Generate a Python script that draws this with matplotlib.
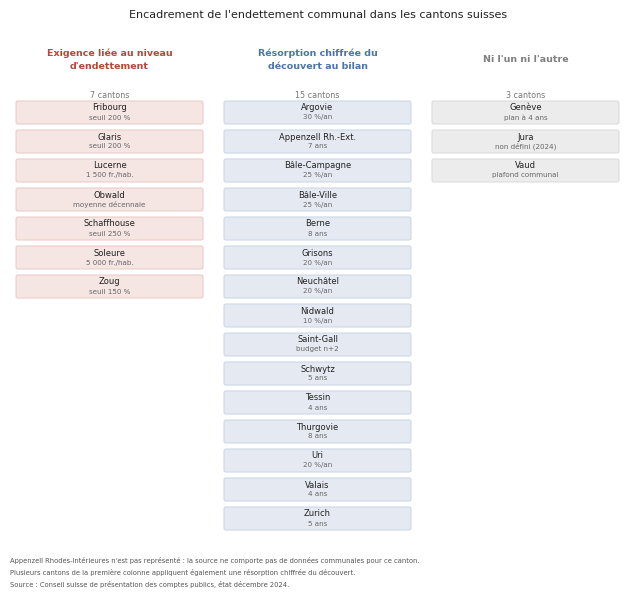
import matplotlib
matplotlib.use("Agg")
import matplotlib.pyplot as plt
from matplotlib.patches import FancyBboxPatch

headings = ["Exigence liée au niveau\nd'endettement", "Résorption chiffrée du\ndécouvert au bilan", "Ni l'un ni l'autre"]
head_colors = ["#b5483a", "#4a77a8", "#808080"]
box_fill = ["#f5e6e4", "#e5eaf2", "#ececec"]
box_edge = ["#eccdc9", "#cdd8e6", "#dcdcdc"]
col1_names = ["Fribourg", "Glaris", "Lucerne", "Obwald", "Schaffhouse", "Soleure", "Zoug"]
col1_notes = ["seuil 200 %", "seuil 200 %", "1 500 fr./hab.", "moyenne décennale", "seuil 250 %", "5 000 fr./hab.", "seuil 150 %"]
col2_names = ["Argovie", "Appenzell Rh.-Ext.", "Bâle-Campagne", "Bâle-Ville", "Berne", "Grisons", "Neuchâtel",
              "Nidwald", "Saint-Gall", "Schwytz", "Tessin", "Thurgovie", "Uri", "Valais", "Zurich"]
col2_notes = ["30 %/an", "7 ans", "25 %/an", "25 %/an", "8 ans", "20 %/an", "20 %/an",
              "10 %/an", "budget n+2", "5 ans", "4 ans", "8 ans", "20 %/an", "4 ans", "5 ans"]
col3_names = ["Genève", "Jura", "Vaud"]
col3_notes = ["plan à 4 ans", "non défini (2024)", "plafond communal"]
columns = [(col1_names, col1_notes), (col2_names, col2_notes), (col3_names, col3_notes)]

W, H = 636, 599
fig = plt.figure(figsize=(W/100, H/100), dpi=100)
ax = fig.add_axes([0, 0, 1, 1])
ax.set_xlim(0, W); ax.set_ylim(H, 0); ax.axis("off")

ax.text(W/2, 15, "Encadrement de l'endettement communal dans les cantons suisses",
        ha="center", va="center", fontsize=8, color="#222222")

col_left = [16, 224, 432]
bw, bh, pitch, top = 187, 23, 29, 101
for c, (names, notes) in enumerate(columns):
    cx = col_left[c] + bw/2
    ax.text(cx, 60, headings[c], ha="center", va="center", fontsize=6.8, fontweight="bold",
            color=head_colors[c], linespacing=1.5)
    ax.text(cx, 96, f"{len(names)} cantons", ha="center", va="center", fontsize=5.8, color="#777777")
    for i, (n, note) in enumerate(zip(names, notes)):
        y = top + i*pitch
        ax.add_patch(FancyBboxPatch((col_left[c], y), bw, bh, boxstyle="round,pad=0,rounding_size=2",
                                    fc=box_fill[c], ec=box_edge[c], lw=0.8))
        ax.text(cx, y + 7, n, ha="center", va="center", fontsize=6.0, color="#222222")
        ax.text(cx, y + 16.5, note, ha="center", va="center", fontsize=5.1, color="#666666")

foot = ["Appenzell Rhodes-Intérieures n'est pas représenté : la source ne comporte pas de données communales pour ce canton.",
        "Plusieurs cantons de la première colonne appliquent également une résorption chiffrée du découvert.",
        "Source : Conseil suisse de présentation des comptes publics, état décembre 2024."]
for i, t in enumerate(foot):
    ax.text(10, 561 + i*12, t, ha="left", va="center", fontsize=4.9, color="#555555")

fig.savefig("out.png", dpi=100, facecolor="white")
